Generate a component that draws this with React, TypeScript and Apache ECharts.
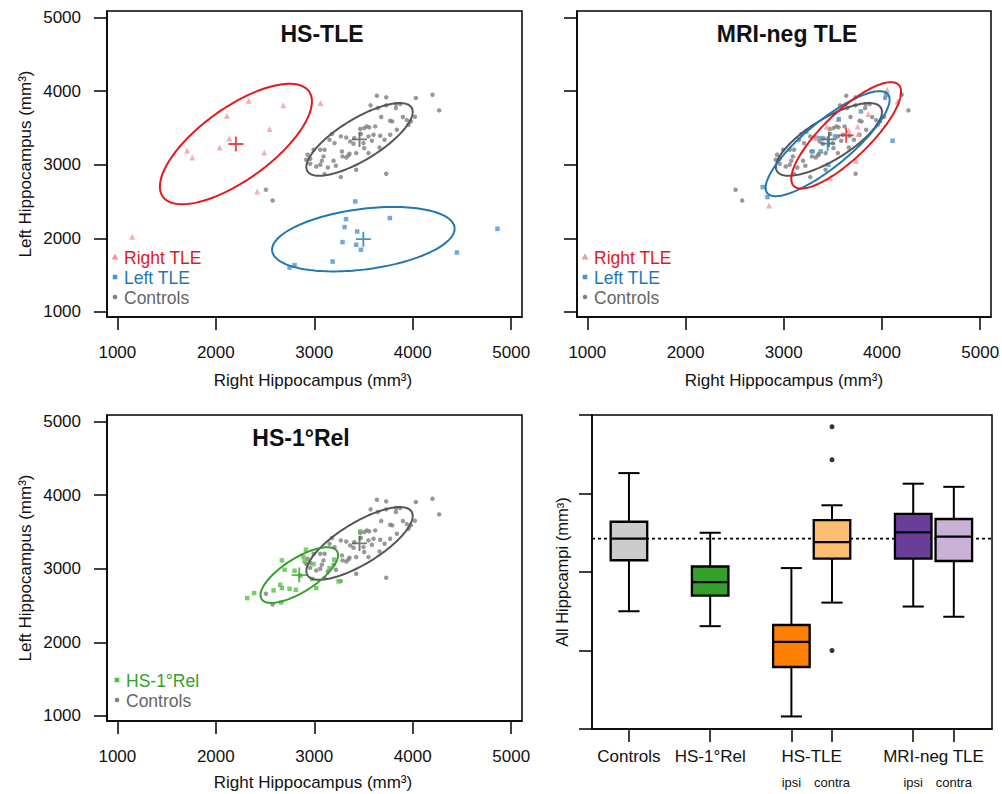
import React, { useEffect, useRef } from "react";
import * as echarts from "echarts";

// ---------- data ----------
const controls: number[][] = [
  [3636, 3938], [3731, 3916], [4032, 3907], [4201, 3952],
  [3572, 3807], [3646, 3771], [3731, 3807], [3832, 3825], [3873, 3825], [3829, 3771], [4269, 3739],
  [3680, 3648], [3771, 3598], [3792, 3589], [3900, 3648], [3940, 3607], [3981, 3589], [4022, 3653],
  [3534, 3521], [3507, 3498], [3467, 3485], [3558, 3508], [3619, 3521], [3839, 3476], [3602, 3408],
  [3179, 3417], [3270, 3385], [3325, 3371], [3406, 3362], [3473, 3417], [3551, 3385], [3670, 3394],
  [3155, 3340], [3206, 3294], [3365, 3317], [3399, 3285], [3500, 3294], [3585, 3326], [3714, 3340], [3771, 3408],
  [3061, 3204], [3105, 3204], [3281, 3181], [3358, 3149], [3426, 3158], [3507, 3226], [3551, 3158], [3663, 3235],
  [2932, 3136], [2959, 3081], [3094, 3113], [3077, 3054], [3061, 3000], [3196, 3054], [3325, 3099], [3348, 3127], [3287, 3113],
  [2918, 3068], [3020, 2977], [3138, 2963], [2959, 3013], [3220, 2986], [3426, 2932], [3270, 2832], [3731, 2877], [3105, 2873],
  [2993, 3204], [3957, 3544], [2509, 2660], [2577, 2514],
];
const hsRight: number[][] = [
  [2333, 3871], [2685, 3807], [3064, 3839], [2113, 3667], [2546, 3485], [2137, 3358],
  [2039, 3236], [1708, 3195], [1761, 3099], [2492, 3167], [2421, 2637], [1152, 2020],
];
const hsLeft: number[][] = [
  [3416, 2501], [3322, 2261], [3768, 2275], [3308, 2152], [3436, 2093], [3287, 1948], [3426, 1912],
  [3474, 1844], [3186, 1684], [2800, 1635], [2749, 1603], [4449, 1807], [4861, 2129],
];
const mriRight: number[][] = [
  [4054, 4020], [4159, 3861], [3556, 3621], [3661, 3467], [3752, 3521], [3759, 3417],
  [3861, 3689], [3437, 3521], [3735, 3054], [3471, 2818], [2851, 2446], [3330, 3360],
];
const mriLeft: number[][] = [
  [4041, 3952], [3786, 3725], [4108, 3326], [3295, 3181], [3376, 3181], [3454, 2999],
  [3369, 3362], [2786, 2696], [2834, 2560], [3522, 3385], [3230, 3450], [3560, 3620],
];
const hsRel: number[][] = [
  [2319, 2601], [2390, 2669], [2587, 2705], [2654, 2782], [2671, 2737], [2749, 2728], [2813, 2714],
  [2699, 2986], [2800, 2973], [2671, 3113], [2891, 3159], [2902, 3100], [2915, 3259], [2993, 3064],
  [2979, 2860], [3020, 2737], [2665, 2542], [3247, 2828], [3467, 3508], [3155, 3009], [3203, 3123], [2858, 2905],
];

// ellipse shapes in data units: [half width, y offset of rightmost point, half height]
const ellControls = [540, 374, 494];
const ellHsRight = [772, 578, 819];
const ellHsLeft = [927, 143, 438];
const ellMriRight = [559, 590, 723];
const ellMriLeft = [631, 599, 714];
const ellHsRel = [394, 272, 378];

const scatterTicks = [1000, 2000, 3000, 4000, 5000];

// box plot
const boxPositions = [1, 3, 5, 6, 8, 9];
// [low whisker, Q1, median, Q3, high whisker]
const boxStats: number[][] = [
  [2500, 3150, 3424, 3640, 4260],
  [2310, 2700, 2870, 3070, 3500],
  [1160, 1790, 2110, 2325, 3050],
  [2610, 3170, 3380, 3660, 3850],
  [2560, 3170, 3505, 3740, 4125],
  [2430, 3140, 3450, 3675, 4085],
];
const boxColors = ["#cccccc", "#33a02c", "#ff7f00", "#fdbf6f", "#6a3d9a", "#cab2d6"];
const boxOutliers: number[][] = [[6, 4850], [6, 4430], [6, 2000]];
const groupLabels = ["Controls", "HS-1°Rel", "HS-TLE", "MRI-neg TLE"];
const groupLabelPos = [1, 3, 5.5, 8.5];
const sideLabels = ["ipsi", "contra", "ipsi", "contra"];
const sideLabelPos = [5, 6, 8, 9];

// ---------- helpers ----------
const FONT = "'Liberation Sans', Arial, Helvetica, sans-serif";
const C = {
  red: "#e31a1c", redPt: "#f49a9a",
  blue: "#1f78b4", bluePt: "#4b93d8",
  gray: "#555555", grayPt: "#808080",
  green: "#33a02c", greenPt: "#52c43f",
};

const mean = (pts: number[][]) => [
  pts.reduce((s, p) => s + p[0], 0) / pts.length,
  pts.reduce((s, p) => s + p[1], 0) / pts.length,
];

function ellipsePoints(center: number[], shape: number[], n = 160) {
  const [cx, cy] = center;
  const [rx, dy, ry] = shape;
  const q = Math.sqrt(ry * ry - dy * dy);
  const out: number[][] = [];
  for (let i = 0; i <= n; i++) {
    const t = (2 * Math.PI * i) / n;
    out.push([cx + rx * Math.cos(t), cy + dy * Math.cos(t) + q * Math.sin(t)]);
  }
  return out;
}

const PLUS = "path://M0,7L16,7L16,9L0,9Z M7,0L9,0L9,16L7,16Z";

function pointSeries(idx: number, data: number[][], symbol: string, size: number, color: string) {
  return {
    type: "scatter", xAxisIndex: idx, yAxisIndex: idx, data, symbol, symbolSize: size,
    itemStyle: { color }, silent: true, z: 2,
  };
}
function ellipseSeries(idx: number, data: number[][], shape: number[], color: string) {
  return {
    type: "line", xAxisIndex: idx, yAxisIndex: idx, data: ellipsePoints(mean(data), shape),
    showSymbol: false, symbol: "none", smooth: false, silent: true, z: 3,
    lineStyle: { color, width: 2 },
  };
}
function crossSeries(idx: number, groups: { data: number[][]; color: string }[]) {
  return {
    type: "scatter", xAxisIndex: idx, yAxisIndex: idx, symbol: PLUS, symbolSize: 15, silent: true, z: 4,
    data: groups.map((g) => ({ value: mean(g.data), itemStyle: { color: g.color } })),
  };
}

const tickStyle = { show: true, length: 13, inside: false, lineStyle: { color: "#000", width: 1.5 } };
const axisLineStyle = { show: true, onZero: false, lineStyle: { color: "#000", width: 1.5 } };
const plain = (v: number) => String(Math.round(v));

function scatterX(gridIndex: number) {
  return {
    type: "value", gridIndex, min: 895, max: 5110, position: "bottom",
    axisLine: axisLineStyle,
    axisTick: { ...tickStyle, customValues: scatterTicks },
    axisLabel: { show: true, customValues: scatterTicks, formatter: plain, fontSize: 17, color: "#111", margin: 27, fontFamily: FONT },
    splitLine: { show: false },
  };
}
function scatterY(gridIndex: number, labels: boolean) {
  return {
    type: "value", gridIndex, min: 930, max: 5090, position: "left",
    axisLine: axisLineStyle,
    axisTick: { ...tickStyle, customValues: scatterTicks },
    axisLabel: { show: labels, customValues: scatterTicks, formatter: plain, fontSize: 17, color: "#111", margin: 26, fontFamily: FONT },
    splitLine: { show: false },
  };
}

function txt(x: number, y: number, text: string, size: number, opts: any = {}) {
  return {
    type: "text", x, y, rotation: opts.rotation || 0, silent: true,
    style: {
      text, fontSize: size, fontFamily: FONT, fontWeight: opts.bold ? "bold" : "normal",
      fill: opts.color || "#111", align: opts.align || "center", verticalAlign: "middle",
    },
  };
}

function legendItem(x: number, y: number, marker: string, color: string, textColor: string, label: string) {
  let m: any;
  if (marker === "tri") m = { type: "polygon", shape: { points: [[x, y - 3.5], [x + 3.5, y + 2.5], [x - 3.5, y + 2.5]] }, style: { fill: color } };
  else if (marker === "sq") m = { type: "rect", shape: { x: x - 2.3, y: y - 2.3, width: 4.6, height: 4.6 }, style: { fill: color } };
  else m = { type: "circle", shape: { cx: x, cy: y, r: 2.3 }, style: { fill: color } };
  return [m, txt(x + 9, y + 1, label, 17.5, { color: textColor, align: "left" })];
}

export default function App() {
  const ref = useRef<HTMLDivElement>(null);
  useEffect(() => {
    if (!ref.current) return;
    const chart = echarts.init(ref.current, null, { renderer: "svg" });

    const grids = [
      { left: 107, top: 11, width: 415, height: 306 },
      { left: 577, top: 11, width: 414, height: 306 },
      { left: 107, top: 415, width: 415, height: 306 },
      { left: 592, top: 415, width: 400, height: 314 },
    ].map((g) => ({ ...g, show: true, borderColor: "#000", borderWidth: 1.5, backgroundColor: "transparent", containLabel: false, outerBoundsMode: "none" }));

    const boxData = boxPositions.map((p, i) => [p, ...boxStats[i]]);
    const refLine = boxStats[0][2];

    const option: any = {
      animation: false,
      backgroundColor: "#fff",
      textStyle: { fontFamily: FONT },
      grid: grids,
      xAxis: [
        scatterX(0), scatterX(1), scatterX(2),
        {
          type: "value", gridIndex: 3, min: 0.09, max: 9.94, position: "bottom",
          axisLine: axisLineStyle,
          axisTick: { ...tickStyle, customValues: boxPositions },
          axisLabel: {
            show: true, customValues: groupLabelPos, fontSize: 17, color: "#111", margin: 19, fontFamily: FONT,
            formatter: (v: number) => {
              const i = groupLabelPos.findIndex((p) => Math.abs(p - v) < 1e-6);
              return i >= 0 ? groupLabels[i] : "";
            },
          },
          splitLine: { show: false },
        },
        {
          type: "value", gridIndex: 3, min: 0.09, max: 9.94, position: "bottom", offset: 0,
          axisLine: { show: false }, axisTick: { show: false },
          axisLabel: {
            show: true, customValues: sideLabelPos, fontSize: 13, color: "#111", margin: 47, fontFamily: FONT,
            formatter: (v: number) => {
              const i = sideLabelPos.findIndex((p) => Math.abs(p - v) < 1e-6);
              return i >= 0 ? sideLabels[i] : "";
            },
          },
          splitLine: { show: false },
        },
      ],
      yAxis: [
        scatterY(0, true), scatterY(1, false), scatterY(2, true),
        {
          type: "value", gridIndex: 3, min: 1000, max: 5000, interval: 1000, position: "left",
          axisLine: axisLineStyle, axisTick: tickStyle, axisLabel: { show: false }, splitLine: { show: false },
        },
      ],
      series: [
        // HS-TLE panel
        pointSeries(0, controls, "circle", 4.5, C.grayPt),
        pointSeries(0, hsRight, "triangle", 6, C.redPt),
        pointSeries(0, hsLeft, "rect", 4.5, C.bluePt),
        ellipseSeries(0, hsRight, ellHsRight, C.red),
        ellipseSeries(0, hsLeft, ellHsLeft, C.blue),
        ellipseSeries(0, controls, ellControls, C.gray),
        crossSeries(0, [{ data: hsRight, color: C.red }, { data: hsLeft, color: C.blue }, { data: controls, color: C.gray }]),
        // MRI-neg panel
        pointSeries(1, controls, "circle", 4.5, C.grayPt),
        pointSeries(1, mriRight, "triangle", 6, C.redPt),
        pointSeries(1, mriLeft, "rect", 4.5, C.bluePt),
        ellipseSeries(1, controls, ellControls, C.gray),
        ellipseSeries(1, mriLeft, ellMriLeft, C.blue),
        ellipseSeries(1, mriRight, ellMriRight, C.red),
        crossSeries(1, [{ data: controls, color: C.gray }, { data: mriLeft, color: C.blue }, { data: mriRight, color: C.red }]),
        // HS-1°Rel panel
        pointSeries(2, controls, "circle", 4.5, C.grayPt),
        pointSeries(2, hsRel, "rect", 4.5, C.greenPt),
        ellipseSeries(2, controls, ellControls, C.gray),
        ellipseSeries(2, hsRel, ellHsRel, C.green),
        crossSeries(2, [{ data: controls, color: C.gray }, { data: hsRel, color: C.green }]),
        // box plot panel
        {
          type: "line", xAxisIndex: 3, yAxisIndex: 3, data: [[0.09, refLine], [9.94, refLine]],
          showSymbol: false, symbol: "none", silent: true, z: 1,
          lineStyle: { color: "#000", width: 1.8, type: [3, 3] },
        },
        {
          type: "custom", xAxisIndex: 3, yAxisIndex: 3, data: boxData, silent: true, z: 2,
          encode: { x: 0, y: [1, 2, 3, 4, 5] },
          renderItem: (params: any, api: any) => {
            const x = api.value(0);
            const lo = api.value(1), q1 = api.value(2), med = api.value(3), q3 = api.value(4), hi = api.value(5);
            const hw = 0.45, cw = 0.26;
            const [xl, yq3] = api.coord([x - hw, q3]);
            const [xr, yq1] = api.coord([x + hw, q1]);
            const [xc, yhi] = api.coord([x, hi]);
            const ylo = api.coord([x, lo])[1];
            const ymed = api.coord([x, med])[1];
            const cl = api.coord([x - cw, lo])[0];
            const cr = api.coord([x + cw, lo])[0];
            const ls = { stroke: "#000", lineWidth: 2 };
            return {
              type: "group",
              children: [
                { type: "line", shape: { x1: xc, y1: yhi, x2: xc, y2: yq3 }, style: ls },
                { type: "line", shape: { x1: xc, y1: yq1, x2: xc, y2: ylo }, style: ls },
                { type: "line", shape: { x1: cl, y1: yhi, x2: cr, y2: yhi }, style: ls },
                { type: "line", shape: { x1: cl, y1: ylo, x2: cr, y2: ylo }, style: ls },
                { type: "rect", shape: { x: xl, y: yq3, width: xr - xl, height: yq1 - yq3 }, style: { fill: boxColors[params.dataIndex], stroke: "#000", lineWidth: 2.3 } },
                { type: "line", shape: { x1: xl, y1: ymed, x2: xr, y2: ymed }, style: { stroke: "#000", lineWidth: 2.3 } },
              ],
            };
          },
        },
        {
          type: "scatter", xAxisIndex: 3, yAxisIndex: 3, data: boxOutliers, symbol: "circle", symbolSize: 5,
          itemStyle: { color: "#000" }, silent: true, z: 3,
        },
      ],
      graphic: {
        elements: [
          txt(322, 34, "HS-TLE", 23, { bold: true }),
          txt(787, 34, "MRI-neg TLE", 23, { bold: true }),
          txt(301, 438, "HS-1°Rel", 23, { bold: true }),
          txt(313, 380, "Right Hippocampus (mm³)", 17),
          txt(784, 380, "Right Hippocampus (mm³)", 17),
          txt(313, 782, "Right Hippocampus (mm³)", 17),
          txt(25, 164, "Left Hippocampus (mm³)", 17, { rotation: Math.PI / 2 }),
          txt(25, 568, "Left Hippocampus (mm³)", 17, { rotation: Math.PI / 2 }),
          txt(562, 572, "All Hippcampi (mm³)", 16.5, { rotation: Math.PI / 2 }),
          ...legendItem(115, 257, "tri", C.redPt, C.red, "Right TLE"),
          ...legendItem(115, 277, "sq", C.bluePt, C.blue, "Left TLE"),
          ...legendItem(115, 297, "circle", C.grayPt, "#666", "Controls"),
          ...legendItem(585, 257, "tri", C.redPt, C.red, "Right TLE"),
          ...legendItem(585, 277, "sq", C.bluePt, C.blue, "Left TLE"),
          ...legendItem(585, 297, "circle", C.grayPt, "#666", "Controls"),
          ...legendItem(117, 680, "sq", C.greenPt, C.green, "HS-1°Rel"),
          ...legendItem(117, 700, "circle", C.grayPt, "#666", "Controls"),
        ],
      },
    };
    chart.setOption(option);
    return () => chart.dispose();
  }, []);
  return <div ref={ref} style={{ position: "fixed", left: 0, top: 0, width: 1002, height: 794, background: "#fff" }} />;
}
